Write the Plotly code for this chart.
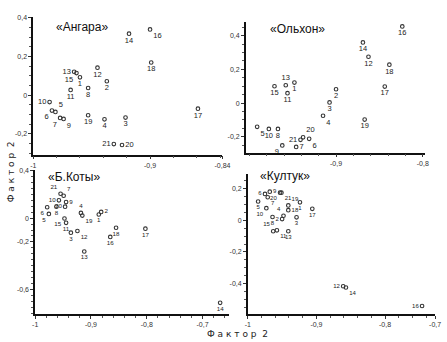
import plotly.graph_objects as go

W, H = 447, 342

point_labels = [str(i) for i in range(1, 22)]

# ---- data (Фактор 2 vs Фактор 2 loadings), points 1..21 ----
angara_x = [-0.960, -0.937, -0.921, -0.939, -0.981, -0.984, -0.977, -0.953, -0.974, -0.986, -0.968,
            -0.945, -0.965, -0.918, -0.963, -0.900, -0.859, -0.899, -0.953, -0.924, -0.931]
angara_y = [0.092, 0.072, -0.116, -0.125, -0.087, -0.080, -0.118, 0.037, -0.123, -0.036, 0.027,
            0.142, 0.121, 0.318, 0.114, 0.340, -0.070, 0.169, -0.104, -0.258, -0.253]

olkhon_x = [-0.948, -0.900, -0.9075, -0.915, -0.991, -0.931, -0.946, -0.967, -0.962, -0.9775, -0.956,
            -0.8626, -0.958, -0.869, -0.971, -0.8236, -0.8438, -0.8385, -0.867, -0.938, -0.941]
olkhon_y = [0.122, 0.082, 0.004, -0.075, -0.141, -0.212, -0.260, -0.153, -0.251, -0.153, 0.059,
            0.275, 0.106, 0.360, 0.100, 0.455, 0.098, 0.228, -0.098, -0.203, -0.218]

bkoty_x = [-0.886, -0.8817, -0.936, -0.918, -0.9755, -0.9785, -0.949, -0.962, -0.9446, -0.9575, -0.9446,
           -0.9243, -0.912, -0.6684, -0.9475, -0.8654, -0.8024, -0.855, -0.9155, -0.9464, -0.9545]
bkoty_y = [0.031, 0.053, -0.122, 0.044, 0.036, 0.092, 0.189, 0.097, 0.136, 0.150, -0.039,
           -0.108, -0.281, -0.714, -0.003, -0.158, -0.089, -0.081, 0.022, 0.097, 0.206]

kultuk_x = [-0.924, -0.950, -0.929, -0.948, -0.985, -0.975, -0.971, -0.964, -0.968, -0.973, -0.9576,
            -0.861, -0.941, -0.857, -0.963, -0.746, -0.906, -0.941, -0.941, -0.953, -0.951]
kultuk_y = [0.114, 0.008, 0.019, 0.029, 0.119, 0.167, 0.146, 0.021, 0.181, 0.077, -0.063,
            -0.417, -0.069, -0.425, -0.069, -0.542, 0.073, 0.064, 0.094, 0.175, 0.175]

panel_titles = ["«Ангара»", "«Ольхон»", "«Б.Коты»", "«Култук»"]
axis_title = "Ф а к т о р  2"

# tick labels per panel
x_tickvals = [[-1, -0.9, -0.838], [-0.9, -0.8], [-1, -0.9, -0.8, -0.7], [-1, -0.9, -0.8, -0.727]]
x_ticktext = [["-1", "-0,9", "-0,84"], ["-0,9", "-0,8"], ["-1", "-0,9", "-0,8", "-0,7"], ["-1", "-0,9", "-0,8", "-0,7"]]
y_tickvals = [[0.4, 0.2, 0, -0.2], [0.4, 0.2, 0, -0.2], [0.4, 0, -0.2, -0.6], [0.2, 0, -0.2, -0.4]]
y_ticktext = [["0,4", "0,2", "0", "-0,2"], ["0,4", "0,2", "0", "-0,2"], ["0,4", "0", "-0,2", "-0,6"], ["0,2", "0", "-0,2", "-0,4"]]

# ---- label placement (style) ----
pos_angara = ["bottom center", "bottom center", "bottom center", "bottom center", "top right", "bottom left",
              "bottom left", "bottom center", "bottom right", "middle left", "bottom center", "bottom center",
              "middle left", "bottom center", "bottom left", "bottom right", "bottom center", "bottom center",
              "bottom center", "middle right", "middle left"]
pos_olkhon = ["bottom center", "bottom center", "bottom center", "bottom right", "bottom right", "bottom right",
              "middle right", "bottom center", "bottom left", "bottom center", "bottom center", "bottom center",
              "top center", "bottom center", "bottom center", "bottom center", "bottom center", "bottom center",
              "bottom center", "top right", "middle left"]
pos_bkoty = ["bottom center", "middle right", "bottom center", "top center", "bottom left", "bottom left",
             "top right", "bottom center", "middle right", "middle left", "bottom center", "bottom right",
             "bottom center", "bottom center", "bottom left", "bottom center", "bottom center", "bottom center",
             "bottom right", "middle left", "top left"]
pos_kultuk = ["bottom center", "middle left", "bottom center", "top left", "bottom center", "middle left",
              "bottom right", "bottom center", "middle right", "bottom left", "bottom right", "middle left",
              "bottom center", "bottom right", "top left", "middle left", "bottom center", "middle right",
              "top right", "bottom left", "bottom right"]

def px_dom_x(a, b):
    return [a / W, b / W]

def px_dom_y(top, bottom):
    return [1 - bottom / H, 1 - top / H]

panels = [
    dict(x=angara_x, y=angara_y, pos=pos_angara, xr=[-1, -0.838], yr=[-0.308, 0.405],
         dx=px_dom_x(31, 225), dy=px_dom_y(14, 153), fs=7.5, title_xy=(81, 24)),
    dict(x=olkhon_x, y=olkhon_y, pos=pos_olkhon, xr=[-1.004, -0.797], yr=[-0.294, 0.482],
         dx=px_dom_x(249, 433), dy=px_dom_y(19, 151), fs=7.5, title_xy=(302, 26)),
    dict(x=bkoty_x, y=bkoty_y, pos=pos_bkoty, xr=[-1, -0.652], yr=[-0.81, 0.41],
         dx=px_dom_x(33, 232), dy=px_dom_y(168, 314), fs=6.2, title_xy=(73, 176)),
    dict(x=kultuk_x, y=kultuk_y, pos=pos_kultuk, xr=[-1, -0.727], yr=[-0.594, 0.29],
         dx=px_dom_x(251, 443), dy=px_dom_y(173, 314), fs=6, title_xy=(289, 175)),
]

fig = go.Figure()
layout = dict(
    width=W, height=H, margin=dict(l=0, r=0, t=0, b=0),
    paper_bgcolor="white", plot_bgcolor="white", showlegend=False,
    font=dict(family="Liberation Sans, Arial, sans-serif", color="#222"),
)
annotations = []
for i, p in enumerate(panels):
    n = "" if i == 0 else str(i + 1)
    fig.add_trace(go.Scatter(
        x=p["x"], y=p["y"], text=point_labels, mode="markers+text",
        textposition=p["pos"], textfont=dict(size=p["fs"], color="#222"),
        marker=dict(symbol="circle-open", size=3.6, color="#333", line=dict(width=1.1)),
        xaxis="x" + n, yaxis="y" + n, cliponaxis=False, hoverinfo="skip",
    ))
    layout["xaxis" + n] = dict(
        domain=p["dx"], range=p["xr"], anchor="y" + n, showgrid=False, zeroline=False,
        showline=True, linecolor="#111", linewidth=1.6, ticks="outside", ticklen=3,
        tickcolor="#333", tickmode="array", tickvals=x_tickvals[i], ticktext=x_ticktext[i],
        tickfont=dict(size=7, color="#333"),
        minor=dict(ticks="outside", ticklen=2, tickmode="linear", tick0=-1, dtick=0.02, tickcolor="#555"),
    )
    layout["yaxis" + n] = dict(
        domain=p["dy"], range=p["yr"], anchor="x" + n, showgrid=False, zeroline=False,
        showline=True, linecolor="#111", linewidth=1.6, ticks="outside", ticklen=3,
        tickcolor="#333", tickmode="array", tickvals=y_tickvals[i], ticktext=y_ticktext[i],
        tickfont=dict(size=7, color="#333"),
        minor=dict(ticks="outside", ticklen=2, tickmode="linear", tick0=0, dtick=0.05, tickcolor="#555"),
    )
    tx, ty = p["title_xy"]
    annotations.append(dict(text=panel_titles[i], x=tx / W, y=1 - ty / H, xref="paper", yref="paper",
                            showarrow=False, font=dict(size=12, color="#111"), xanchor="center", yanchor="middle"))

annotations.append(dict(text=axis_title, x=240 / W, y=1 - 334 / H, xref="paper", yref="paper", showarrow=False,
                        font=dict(size=9, color="#222", family="DejaVu Sans, sans-serif"), xanchor="center", yanchor="middle"))
annotations.append(dict(text=axis_title, x=8 / W, y=1 - 170 / H, xref="paper", yref="paper", showarrow=False,
                        textangle=-90, font=dict(size=9, color="#222", family="DejaVu Sans, sans-serif"),
                        xanchor="center", yanchor="middle"))
layout["annotations"] = annotations
fig.update_layout(**layout)

fig.write_html("out.html")
